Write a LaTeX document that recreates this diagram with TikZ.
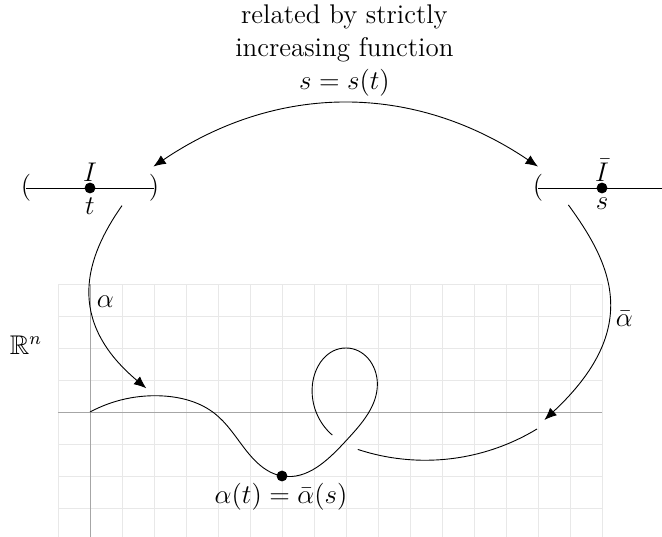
\documentclass[12pt,tikz,border=0pt]{standalone}
\usepackage{amssymb}
\usetikzlibrary{arrows.meta, hobby}

\begin{document}
\begin{tikzpicture}[scale=0.5, >={Latex[length=5.5pt, width=4.5pt]}]

    \useasboundingbox (-2.8125,-3.906) rectangle (17.875,12.875);

    % GRID AND AXES
    \draw[gray!18, step=1] (-1,-4) grid (16,4);
    \draw[gray!70] (-1,0) -- (16,0);
    \draw[gray!70] (0,-4) -- (0,4);
    \node (space) at (-2,2.1) {$\mathbb{R}^n$};

    % PARAMETER INTERVALS
    \draw (-2,7) -- (2,7);
    \node (lparI) at (-2,7) {$($};
    \node (rparI) at (2,7) {$)$};
    \fill (0,7) circle (0.17);
    \node[above, inner sep=2.7pt] (I) at (0,7) {$I$};
    \node[below] (t) at (0,7) {$t$};

    \draw (14,7) -- (18,7);
    \node (lparJ) at (14,7) {$($};
    \node (rparJ) at (18,7) {$)$};
    \fill (16,7) circle (0.17);
    \node[above, inner sep=2.7pt] (Ibar) at (16,7) {$\bar{I}$};
    \node[below] (s) at (16,7) {$s$};

    % REPARAMETRIZATION
    \coordinate (ltip) at (1.98,7.67);
    \coordinate (rtip) at (14.0,7.67);
    \draw[<->] (ltip) to[bend left=34] (rtip);
    \node[align=center] (rel) at (7.95,11.3)
        {related by strictly\\ increasing function\\ $s=s(t)$};

    % THE CURVE
    \draw[use Hobby shortcut] (0,0) .. (2.3,0.5) .. (3.9,-0.05) .. (4.8,-1.1)
        .. (6,-2) .. (8,-0.9) .. (8.98,0.9) .. (8,2) .. (6.95,0.85) .. (7.57,-0.72);
    \draw[use Hobby shortcut] (8.37,-1.17) .. (10.8,-1.5) .. (13.97,-0.53);
    \fill (6,-2) circle (0.17) coordinate (pt);
    \node (ptlabel) at (5.97,-2.65) {$\alpha(t)=\bar{\alpha}(s)$};

    % MAPS FROM THE INTERVALS
    \coordinate (astart) at (1,6.45);
    \coordinate (aend) at (1.76,0.74);
    \draw[->] (astart) .. controls (-0.13,4.84) and (-0.79,2.88) .. (aend);
    \node (alpha) at (0.48,3.45) {$\alpha$};

    \coordinate (bstart) at (14.95,6.47);
    \coordinate (bend) at (14.2,-0.25);
    \draw[->] (bstart) .. controls (16.29,4.63) and (17.28,2.62) .. (bend);
    \node (alphabar) at (16.7,2.9) {$\bar{\alpha}$};

\end{tikzpicture}
\end{document}
